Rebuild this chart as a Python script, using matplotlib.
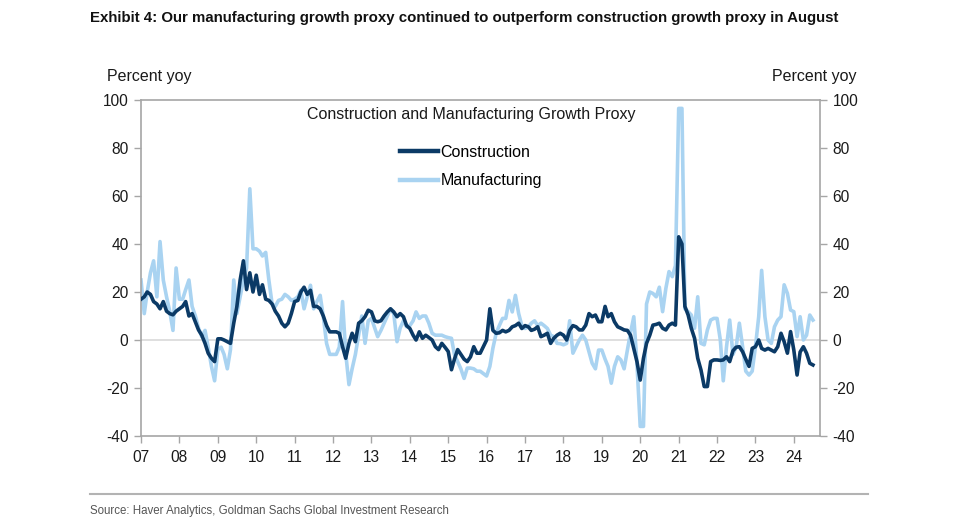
import numpy as np
import pandas as pd
import matplotlib
matplotlib.use("Agg")
import matplotlib.pyplot as plt
import matplotlib.dates as mdates
from matplotlib.lines import Line2D
from matplotlib import font_manager

# ---------------- data (monthly, Jan 2007 onwards, percent yoy) ----------------
start_month = "2007-01"
construction = [
    17, 18, 20, 19, 16, 15, 13, 16, 12, 11, 10.5, 12,
    13, 14, 16, 10, 11, 7.6, 4.2, 2, -1.4, -5.5, -7.6, -9,
    0.5, 0.5, 0, -0.7, -1.4, 7, 14, 25, 33, 21, 28, 20,
    27, 19, 23, 17, 16.5, 15, 12, 10, 7, 5.5, 7, 11,
    16, 16.5, 20, 22, 19, 20.7, 14, 14, 13, 10, 6, 3.4,
    3.4, 3.4, 2.8, -2.8, -7.6, -1.4, 2.8, -0.7, 7, 8, 9.7, 12.4,
    11.7, 8, 7.6, 8, 10, 11.7, 13, 11.7, 9.7, 11, 9.7, 6,
    4.8, 2, 0, 3.4, 0.7, 2, 1, 0, -2.8, -4, -1.4, -3,
    -4.8, -12.4, -8, -4, -6, -8, -9, -7, -2.8, -5.5, -5.5, -2.8,
    0, 13, 4, 2.8, 3, 4, 3.4, 4, 5.5, 6, 7, 4.8,
    6, 5.5, 4, 4.5, 5.5, 1.4, 2, 2.8, -1.4, 0.7, 2, 2.8,
    2, 0, 4, 6, 5.5, 4.2, 4.2, 6.2, 11, 9.7, 10.4, 7.6,
    7.6, 14, 9.7, 11, 7.6, 5.5, 4.9, 4.2, 4, 2, -3.5, -9,
    -16.7, -7.6, -1.4, 2, 6.2, 6.5, 7, 4.9, 4.2, 6.2, 7, 6.2,
    43, 40, 14, 10.4, 4.9, 0.7, -7.6, -12.5, -19.4, -19.4, -9, -8.3,
    -8.3, -8.5, -8.3, -7, -9, -4.5, -3, -2.8, -4.9, -8, -11, -3.5,
    -2.8, 0, -3.5, -4.2, -3.5, -4.2, -4.9, -2.8, 2.8, -0.7, -5.5, 3.5,
    -4.2, -14.6, -5, -2.8, -5.5, -9.7, -10.4,
]
manufacturing = [
    25, 11, 20, 28, 33, 18, 41, 25, 18, 12, 4, 30,
    17, 17, 21, 25, 14, 10, 5, 1.4, 4, -3, -11, -17,
    -4, -3, -6, -12, -4, 25, 11, 18, 25, 30, 63, 38,
    38, 37, 35, 36.5, 25, 15, 14, 16.5, 17, 19, 18, 16.5,
    17, 18, 20.7, 13, 18, 22.8, 13, 16, 18.6, 9.7, -1.4, -6,
    -6, -6, -3, 16, -5.5, -18.6, -12, -6, 2, 10, -1.4, 8,
    9, 5, 1.4, 4, 7, 10, 13, 11, -0.7, 5, 8, 5.5,
    6, 8, 11.7, 9, 10, 10, 7, 2.8, 2, 2, 2, 1.4,
    1, 0.7, -6, -9, -12, -16, -11.7, -11.7, -12, -13, -13, -14,
    -15, -11, -3.4, 2.8, 6, 9, 9, 16.5, 11.7, 18.6, 11, 6,
    4.8, 5.5, 7, 8, 6, 7, 6, 4.8, 2, 1.4, -1.4, -1.5,
    -2, -1.4, 8, -5.5, -2.8, 0, 2, 0, -5, -9.7, -12, -4.2,
    -4.2, -8, -11, -18, -11, -7, -8.3, -12, -4.2, 3, 9.7, -9.7,
    -36, -36, 15, 20, 19.4, 18, 22, 11.8, 21.5, 28.5, 26.4, 31,
    96.5, 96.5, 13, 11.8, 10.4, 4.9, 18, -1.4, -2, 4.2, 8.3, 9,
    9, 0, -17, -2.8, 8.3, -6, -3, 7, -2.8, -13, -14.6, -13,
    -2.8, 9.7, 29, 9.7, 0, -1.4, 5.5, 8.3, 9.7, 23, 19.4, 12.5,
    11.8, 1.4, 9.7, 0, 2, 10.4, 8.3,
]
series_names = ["Construction", "Manufacturing"]
year_ticks = list(range(2007, 2025))
y_ticks = [-40, -20, 0, 20, 40, 60, 80, 100]

title = ("Exhibit 4: Our manufacturing growth proxy continued to outperform "
         "construction growth proxy in August")
chart_title = "Construction and Manufacturing Growth Proxy"
source = "Source: Haver Analytics, Goldman Sachs Global Investment Research"
unit = "Percent yoy"

# ---------------- style ----------------
DARK = "#0b3a66"
LIGHT = "#a9d3f1"
SPINE = "#a6a6a6"
TXT = "#1a1a1a"

avail = {f.name for f in font_manager.fontManager.ttflist}
base = "Liberation Sans" if "Liberation Sans" in avail else "DejaVu Sans"
plt.rcParams["font.family"] = [base, "DejaVu Sans"]
plt.rcParams["axes.unicode_minus"] = False

W, H = 960, 517
fig = plt.figure(figsize=(W / 100, H / 100), dpi=100)
L, R, T, B = 141, 820, 100, 436
ax = fig.add_axes([L / W, 1 - B / H, (R - L) / W, (B - T) / H])

dates_c = pd.date_range(start_month, periods=len(construction), freq="MS")
dates_m = pd.date_range(start_month, periods=len(manufacturing), freq="MS")

ax.axhline(0, color="#d9d9d9", lw=1.2, zorder=1)
ax.plot(dates_m, manufacturing, color=LIGHT, lw=2.6, zorder=2,
        solid_joinstyle="round", label=series_names[1])
ax.plot(dates_c, construction, color=DARK, lw=2.6, zorder=3,
        solid_joinstyle="round", label=series_names[0])

ax.set_ylim(-40, 100)
ax.set_yticks(y_ticks)
ax.set_xlim(pd.Timestamp("2007-01-01"), pd.Timestamp("2024-09-06"))
ax.set_xticks([pd.Timestamp(f"{y}-01-01") for y in year_ticks])
ax.xaxis.set_major_formatter(mdates.DateFormatter("%y"))

for s in ax.spines.values():
    s.set_color(SPINE)
    s.set_linewidth(1.2)
ax.tick_params(axis="both", which="both", direction="out", length=5,
               width=1.0, color=SPINE, labelsize=11.2, labelcolor=TXT)
ax.tick_params(axis="y", left=True, right=True, labelleft=True,
               labelright=True, pad=4)
ax.tick_params(axis="x", pad=5)

# legend and inner title
handles = [Line2D([], [], color=DARK, lw=3.2), Line2D([], [], color=LIGHT, lw=3.2)]
fig.text(471 / W, 1 - 115 / H, chart_title, ha="center", va="center",
         fontsize=11.5, color=TXT)
fig.legend(handles, series_names, loc="upper center",
           bbox_to_anchor=(471 / W, 1 - 145 / H), frameon=False,
           fontsize=11.5, handlelength=2.4, handletextpad=0.15,
           labelspacing=0.82, borderaxespad=0, borderpad=0)

# unit labels
fig.text(107 / W, 1 - 76 / H, unit, ha="left", va="center", fontsize=11.5, color=TXT)
fig.text(856 / W, 1 - 76 / H, unit, ha="right", va="center", fontsize=11.5, color=TXT)

# header / footer
fig.text(90 / W, 1 - 18 / H, title, ha="left", va="center", fontsize=10.8,
         fontweight="bold", color="#111111")
fig.add_artist(Line2D([90 / W, 868 / W], [1 - 494 / H, 1 - 494 / H],
                      color="#b3b3b3", lw=1.5))
fig.text(90 / W, 1 - 511 / H, source, ha="left", va="center", fontsize=8.3,
         color="#555555")

fig.savefig("out.png", dpi=100)
